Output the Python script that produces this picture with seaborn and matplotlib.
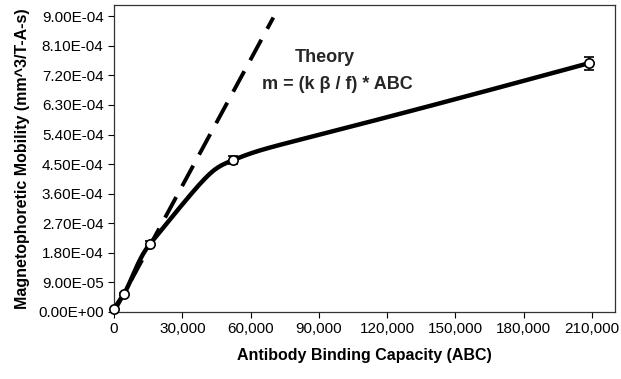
import numpy as np
import pandas as pd
import matplotlib
matplotlib.use("Agg")
import matplotlib.pyplot as plt
import seaborn as sns
from matplotlib.ticker import FuncFormatter

abc = [0, 4400, 15800, 52300, 208600]
mobility = [1.0e-5, 5.5e-5, 2.07e-4, 4.62e-4, 7.57e-4]
mobility_err = [0.0, 3e-6, 8e-6, 1.3e-5, 2.0e-5]

# theory line m = (k beta / f) * ABC
theory_slope = 1.28e-8
theory_abc = [0, 70000]

x_ticks = [0, 30000, 60000, 90000, 120000, 150000, 180000, 210000]
y_ticks = [0, 9e-5, 1.8e-4, 2.7e-4, 3.6e-4, 4.5e-4, 5.4e-4, 6.3e-4, 7.2e-4, 8.1e-4, 9e-4]

XMAX, YMAX = 220000, 9.34e-4


def smooth_curve(xs, ys, n=80, f=1.0, min_arm=0.12):
    # bezier smoothing in screen-like units; tangent directions like
    # catmull-rom, control arms reaching towards the tangent crossing
    sx, sy = 500.0 / XMAX, 307.0 / YMAX
    p = np.column_stack([np.array(xs) * sx, np.array(ys) * sy]).astype(float)
    m = len(p)
    dirs = []
    for i in range(m):
        d = p[min(i + 1, m - 1)] - p[max(i - 1, 0)]
        dirs.append(d / np.linalg.norm(d))
    t = np.linspace(0, 1, n)[:, None]
    out = []
    for i in range(m - 1):
        p0, p1 = p[i], p[i + 1]
        L = np.linalg.norm(p1 - p0)
        A = np.column_stack([dirs[i], dirs[i + 1]])
        a0 = a1 = L / 3
        if abs(np.linalg.det(A)) > 1e-6:
            a, b = np.linalg.solve(A, p1 - p0)
            if a >= -1e-6 and b >= -1e-6:
                a0 = max(f * a, min_arm * L)
                a1 = max(f * b, min_arm * L)
                a0, a1 = min(a0, 0.9 * L), min(a1, 0.9 * L)
        b1 = p0 + a0 * dirs[i]
        b2 = p1 - a1 * dirs[i + 1]
        out.append((1 - t) ** 3 * p0 + 3 * (1 - t) ** 2 * t * b1 +
                   3 * (1 - t) * t ** 2 * b2 + t ** 3 * p1)
    out = np.vstack(out)
    return out[:, 0] / sx, out[:, 1] / sy


sns.set_style("ticks")
plt.rcParams["font.family"] = ["Liberation Sans", "DejaVu Sans"]

fig = plt.figure(figsize=(6.21, 3.79), dpi=100)
ax = fig.add_axes([0.1836, 0.1768, 0.8064, 0.81])

cx, cy = smooth_curve(abc, mobility)
df_curve = pd.DataFrame({"ABC": cx, "m": cy})
df_theory = pd.DataFrame({"ABC": theory_abc,
                          "m": [theory_slope * v for v in theory_abc]})
df_pts = pd.DataFrame({"ABC": abc, "m": mobility, "err": mobility_err})

sns.lineplot(data=df_theory, x="ABC", y="m", ax=ax, color="black",
             linewidth=2.8, zorder=2)
ax.lines[-1].set_dashes([6, 3.2])
sns.lineplot(data=df_curve, x="ABC", y="m", ax=ax, color="black",
             linewidth=3.2, sort=False, zorder=3)
ax.errorbar(df_pts["ABC"], df_pts["m"], yerr=df_pts["err"], fmt="none",
            ecolor="black", elinewidth=1.2, capsize=3.5, capthick=1.2, zorder=4)
sns.scatterplot(data=df_pts, x="ABC", y="m", ax=ax, color="white",
                edgecolor="black", linewidth=1.2, s=45, zorder=5, clip_on=False)

ax.set_xlim(0, XMAX)
ax.set_ylim(0, YMAX)
ax.set_xticks(x_ticks)
ax.set_yticks(y_ticks)
ax.xaxis.set_major_formatter(FuncFormatter(lambda v, p: f"{v:,.0f}"))
ax.yaxis.set_major_formatter(FuncFormatter(lambda v, p: f"{v:.2E}"))
ax.tick_params(labelsize=11, length=4, width=0.8, color="black",
               labelcolor="black")

for s in ax.spines.values():
    s.set_visible(True)
    s.set_linewidth(0.9)
    s.set_color("#333333")

ax.set_xlabel("Antibody Binding Capacity (ABC)", fontsize=11.5,
              fontweight="bold", labelpad=8, color="black")
ax.set_ylabel("Magnetophoretic Mobility (mm^3/T-A-s)", fontsize=11.5,
              fontweight="bold", labelpad=6, color="black")

ax.text(0.42, 0.83, "Theory", transform=ax.transAxes, fontsize=13,
        fontweight="bold", ha="center", va="center")
ax.text(0.447, 0.74, "m = (k β / f) * ABC", transform=ax.transAxes,
        fontsize=13, fontweight="bold", ha="center", va="center")

fig.savefig("out.png", dpi=100)
